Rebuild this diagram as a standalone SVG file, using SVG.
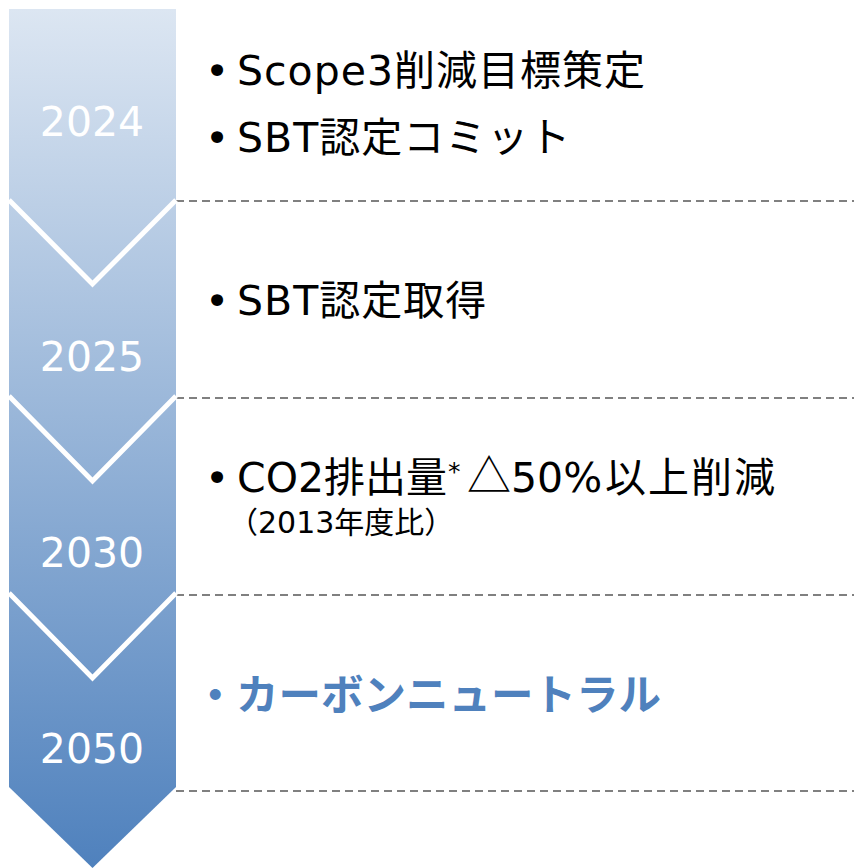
<svg xmlns="http://www.w3.org/2000/svg" width="854" height="868" viewBox="0 0 854 868">
<defs>
<linearGradient id="g" x1="0" y1="9" x2="0" y2="868" gradientUnits="userSpaceOnUse">
<stop offset="0" stop-color="#dce6f2"/>
<stop offset="1" stop-color="#4f81bd"/>
</linearGradient>
<style>
.yr{font-family:"DejaVu Sans",sans-serif;font-size:41px;fill:#fff;text-anchor:middle}
.t{font-family:"DejaVu Sans","Noto Sans CJK JP",sans-serif;font-size:41px;fill:#000}
.s{font-family:"DejaVu Sans","Noto Sans CJK JP",sans-serif;font-size:30px;fill:#000}
.cn{font-family:"Noto Sans CJK JP",sans-serif;font-size:42.5px;font-weight:bold;fill:#4f81bd}
.dash{stroke:#808080;stroke-width:2;stroke-dasharray:8 5;fill:none}
.chev{stroke:#fff;stroke-width:5;fill:none}
</style>
</defs>
<g id="arrow">
<path d="M9 9 H176 V787 L92.5 868 L9 787 Z" fill="url(#g)"/>
</g>
<g id="connectors">
<line class="dash" x1="176" y1="201" x2="854" y2="201"/>
<line class="dash" x1="176" y1="398" x2="854" y2="398"/>
<line class="dash" x1="176" y1="595" x2="854" y2="595"/>
<line class="dash" x1="176" y1="791" x2="854" y2="791"/>
</g>
<g id="chevrons">
<polyline class="chev" points="9,200 92.5,284 176,200"/>
<polyline class="chev" points="9,396 92.5,481 176,396"/>
<polyline class="chev" points="9,593 92.5,678 176,593"/>
</g>
<g id="y2024"><text class="yr" x="92" y="136">2024</text></g>
<g id="y2025"><text class="yr" x="92" y="371">2025</text></g>
<g id="y2030"><text class="yr" x="92" y="567">2030</text></g>
<g id="y2050"><text class="yr" x="92" y="763">2050</text></g>
<g id="n2024">
<text class="t" x="205" y="85">•</text><text class="t" x="237" y="85" letter-spacing="1">Scope3削減目標策定</text>
<text class="t" x="205" y="152">•</text><text class="t" x="237" y="152" letter-spacing="1">SBT認定コミット</text>
</g>
<g id="n2025">
<text class="t" x="205" y="315">•</text><text class="t" x="237" y="315" letter-spacing="1">SBT認定取得</text>
</g>
<g id="n2030">
<text class="t" x="205" y="492">•</text><text class="t" x="237" y="492">CO2排出量</text>
<text class="t" x="448" y="480" style="font-size:25px">*</text>
<text class="t" x="511" y="492"><tspan x="467" font-family="Noto Sans CJK JP" font-size="44">△</tspan><tspan x="511">50%</tspan><tspan x="605" letter-spacing="2">以上削減</tspan></text>
<text class="s" x="228" y="533">（2013年度比）</text>
</g>
<g id="n2050">
<text class="cn" x="194" y="710">・</text><text class="cn" x="236" y="710">カーボンニュートラル</text>
</g>
</svg>
